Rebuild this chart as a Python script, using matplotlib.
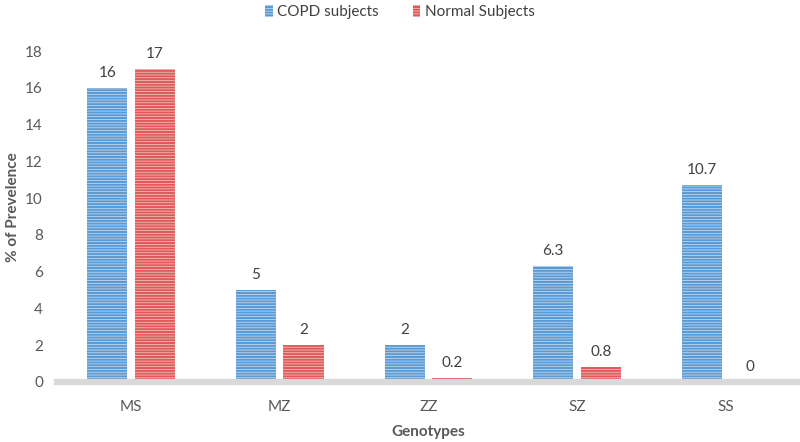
import matplotlib
matplotlib.use("Agg")
import matplotlib.pyplot as plt
import numpy as np
from matplotlib.patches import Patch

plt.rcParams['font.family'] = ['Lato', 'DejaVu Sans']
plt.rcParams['hatch.linewidth'] = 1.5

categories = ["MS", "MZ", "ZZ", "SZ", "SS"]
copd = [16, 5, 2, 6.3, 10.7]
normal = [17, 2, 0.2, 0.8, 0]
copd_labels = ["16", "5", "2", "6.3", "10.7"]
normal_labels = ["17", "2", "0.2", "0.8", "0"]
yticks = [0, 2, 4, 6, 8, 10, 12, 14, 16, 18]

fig = plt.figure(figsize=(8, 4.42), dpi=100)
ax = fig.add_axes([0.071, 0.136, 0.929, 0.79])

x = np.arange(len(categories))
w = 0.27
off = 0.16
blue_line = "#5b9bd5"
blue_face = "#cfe2f4"
red_line = "#e05a5a"
red_face = "#f8cccc"

ax.bar(x - off, copd, w, color=blue_face, edgecolor=blue_line, hatch="------", linewidth=0)
ax.bar(x + off, normal, w, color=red_face, edgecolor=red_line, hatch="------", linewidth=0)

txt = "#404040"
for xi, v, s in zip(x, copd, copd_labels):
    ax.annotate(s, (xi - off, v), xytext=(0, 6), textcoords="offset points",
                ha="center", va="bottom", fontsize=11, color=txt)
for xi, v, s in zip(x, normal, normal_labels):
    ax.annotate(s, (xi + off, v), xytext=(0, 6), textcoords="offset points",
                ha="center", va="bottom", fontsize=11, color=txt)

ax.set_xlim(-0.5, len(categories) - 0.5)
ax.set_ylim(0, 19)
ax.set_yticks(yticks)
ax.set_xticks(x)
ax.set_xticklabels(categories)
ax.tick_params(axis="both", length=0, labelsize=11, colors="#595959")
ax.tick_params(axis="x", pad=13)
ax.tick_params(axis="y", pad=10)

for s in ["top", "right", "left"]:
    ax.spines[s].set_visible(False)
ax.spines["bottom"].set_color("#d9d9d9")
ax.spines["bottom"].set_linewidth(4.5)

ax.set_xlabel("Genotypes", fontsize=11, fontweight="bold", color="#595959", labelpad=8)
ax.set_ylabel("% of Prevelence", fontsize=11, fontweight="bold", color="#595959", labelpad=4)

handles = [Patch(facecolor=blue_face, edgecolor=blue_line, hatch="------", linewidth=0, label="COPD subjects"),
           Patch(facecolor=red_face, edgecolor=red_line, hatch="------", linewidth=0, label="Normal Subjects")]
fig.legend(handles=handles, loc="upper center", bbox_to_anchor=(0.5, 1.02), ncol=2, frameon=False,
           fontsize=11, handlelength=0.5, handleheight=0.8, handletextpad=0.3, columnspacing=2.2,
           labelcolor="#404040")

fig.savefig("out.png", dpi=100)
